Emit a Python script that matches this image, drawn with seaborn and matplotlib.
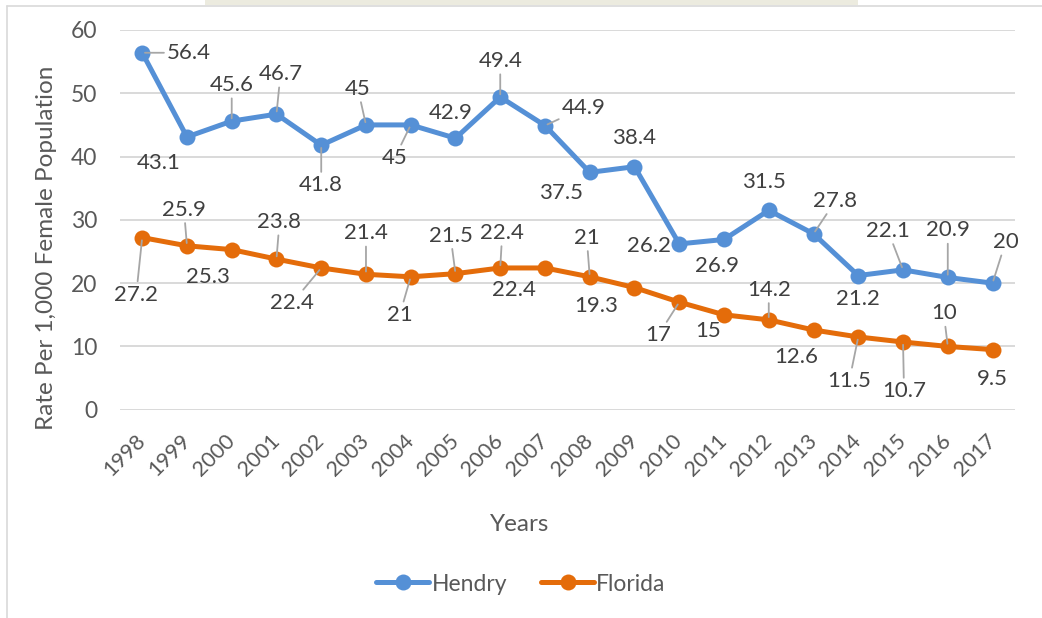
import matplotlib
matplotlib.use("Agg")
import matplotlib.pyplot as plt
import pandas as pd
import seaborn as sns
from matplotlib.lines import Line2D
from matplotlib.patches import Rectangle

years = [str(y) for y in range(1998, 2018)]
hendry = [56.4, 43.1, 45.6, 46.7, 41.8, 45, 45, 42.9, 49.4, 44.9,
          37.5, 38.4, 26.2, 26.9, 31.5, 27.8, 21.2, 22.1, 20.9, 20]
florida = [27.2, 25.9, 25.3, 23.8, 22.4, 21.4, 21, 21.5, 22.4, 22.4,
           21, 19.3, 17, 15, 14.2, 12.6, 11.5, 10.7, 10, 9.5]

# label offsets in pixels (dx right, dy down) and whether a leader line is drawn
hendry_off = [(47, 0, 1), (-28, 26, 0), (0, -36, 1), (4, -40, 1), (0, 40, 1),
              (-8, -36, 1), (-16, 33, 1), (-5, -25, 0), (0, -36, 1), (39, -18, 1),
              (-29, 21, 0), (0, -29, 0), (-30, 2, 0), (-7, 27, 0), (-5, -28, 0),
              (22, -33, 1), (0, 23, 0), (-15, -39, 1), (0, -47, 1), (13, -41, 1)]
florida_off = [(-6, 57, 1), (-3, -36, 1), (-24, 27, 0), (3, -37, 1), (-29, 35, 1),
               (0, -41, 1), (-11, 38, 1), (-5, -38, 1), (2, -35, 1), (-31, 22, 0),
               (-3, -39, 1), (-38, 18, 0), (-21, 33, 1), (-16, 16, 0), (0, -30, 1),
               (-17, 27, 0), (-9, 44, 1), (1, 49, 1), (-4, -33, 1), (0, 29, 0)]

df = pd.DataFrame({
    "Year": years * 2,
    "Rate": hendry + florida,
    "Area": ["Hendry"] * len(years) + ["Florida"] * len(years),
})

sns.set_style("white")
plt.rcParams["font.family"] = ["Lato", "DejaVu Sans"]

fig = plt.figure(figsize=(10.42, 6.18), dpi=100)
ax = fig.add_axes([0.115, 0.337, 0.859, 0.6145])

colors = {"Hendry": "#5590d6", "Florida": "#e46c0a"}
sns.lineplot(data=df, x="Year", y="Rate", hue="Area", palette=colors,
             marker="o", markersize=11.5, markeredgewidth=0, linewidth=3.6,
             sort=False, ax=ax)

ax.set_ylim(0, 60)
ax.set_xlim(-0.5, len(years) - 0.5)
ax.set_yticks(range(0, 61, 10))
ax.yaxis.grid(True, color="#d9d9d9", linewidth=1.4)
ax.set_axisbelow(True)
for s in ax.spines.values():
    s.set_visible(False)
ax.tick_params(axis="both", length=0, labelcolor="#595959")
ax.tick_params(axis="y", pad=16, labelsize=16.5)
ax.tick_params(axis="x", pad=20, labelsize=15.5)
for lab in ax.get_xticklabels():
    lab.set_rotation(45)
    lab.set_ha("right")
    lab.set_va("center")
    lab.set_rotation_mode("anchor")

ax.set_xlabel("Years", fontsize=17.5, color="#595959")
ax.xaxis.set_label_coords(0.447, -0.275)
ax.set_ylabel("Rate Per 1,000 Female Population", fontsize=17.5, color="#595959")
ax.yaxis.set_label_coords(-0.07, 0.426)


def add_labels(values, offsets):
    for i, (v, (dx, dy, lead)) in enumerate(zip(values, offsets)):
        arrow = None
        if lead:
            arrow = dict(arrowstyle="-", color="#a6a6a6", lw=1.3,
                         shrinkA=0, shrinkB=2)
        ax.annotate(f"{v:g}", xy=(i, v), xytext=(dx, -dy),
                    textcoords="offset pixels", ha="center", va="center",
                    fontsize=16, color="#404040", arrowprops=arrow,
                    annotation_clip=False)


add_labels(hendry, hendry_off)
add_labels(florida, florida_off)

handles, labels = ax.get_legend_handles_labels()
ax.legend(handles, labels, loc="center", bbox_to_anchor=(0.5, 0.055),
          bbox_transform=fig.transFigure, ncol=2, frameon=False,
          fontsize=16.5, labelcolor="#595959", handlelength=2.3,
          handletextpad=0.1, columnspacing=1.5)

# frame fragments and the clipped title box of the original
fig.add_artist(Rectangle((205 / 1042, 1 - 5 / 618), 653 / 1042, 5 / 618,
                         transform=fig.transFigure, facecolor="#ecebdf",
                         edgecolor="none"))
fig.add_artist(Line2D([7 / 1042, 1], [1 - 5.5 / 618, 1 - 5.5 / 618],
                      transform=fig.transFigure, color="#d9d9d9", lw=1.2))
fig.add_artist(Line2D([7 / 1042, 7 / 1042], [0, 1 - 5.5 / 618],
                      transform=fig.transFigure, color="#d9d9d9", lw=1.2))

fig.savefig("out.png", dpi=100)
